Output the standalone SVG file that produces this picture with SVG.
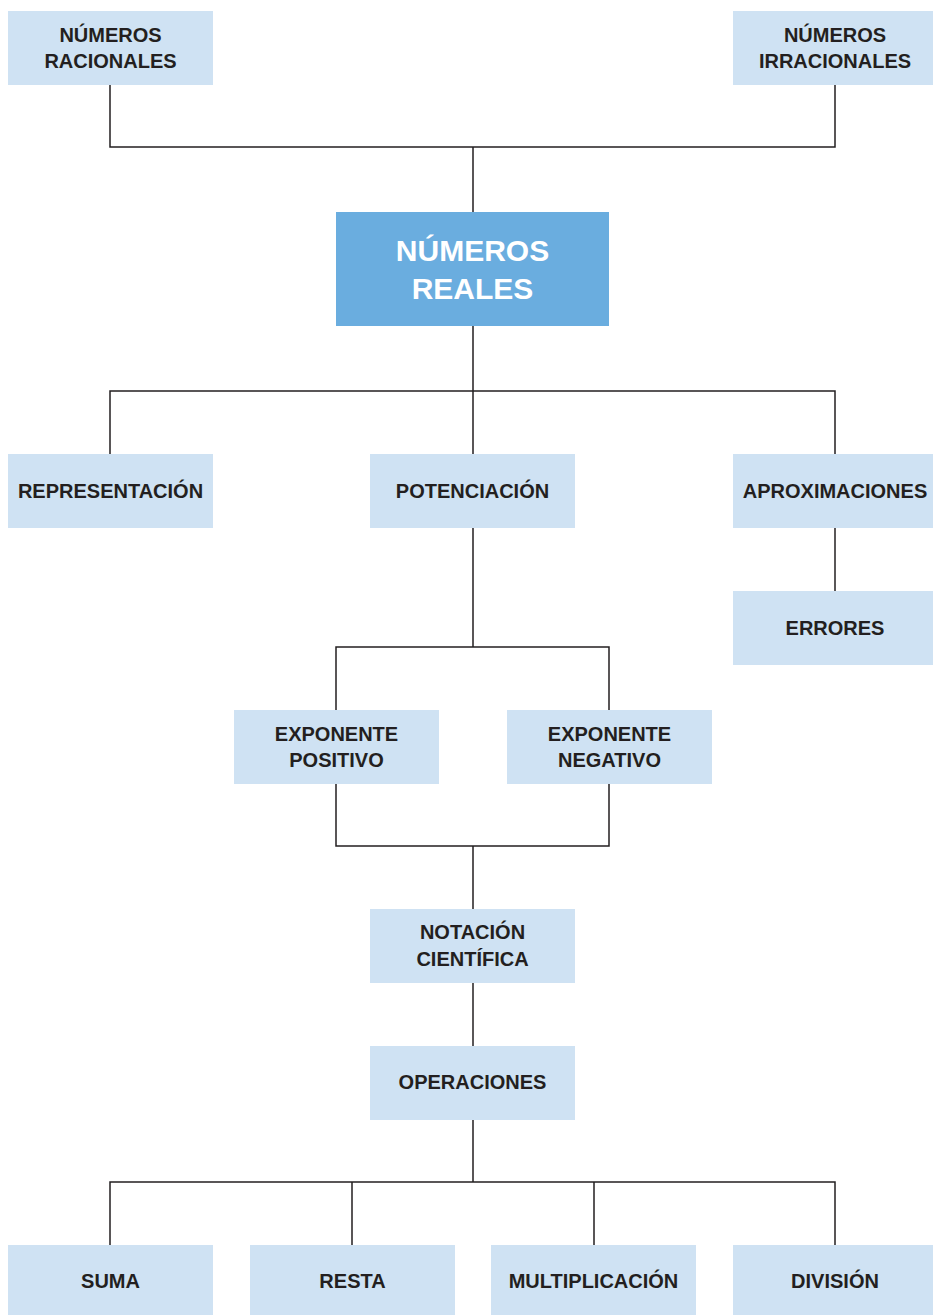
<svg xmlns="http://www.w3.org/2000/svg" width="933" height="1315" viewBox="0 0 933 1315">
<style>
.b{fill:#cfe2f3}
.t{font-family:"Liberation Sans",Arial,sans-serif;font-weight:bold;font-size:20px;fill:#231f20;text-anchor:middle}
.big{font-family:"Liberation Sans",Arial,sans-serif;font-weight:bold;font-size:30px;fill:#ffffff;text-anchor:middle}
.c{fill:none;stroke:#231f20;stroke-width:1.5}
</style>
<rect width="933" height="1315" fill="#ffffff"/>
<g id="connectors" class="c">
<path d="M110 85V147H835V85M473 147V212"/>
<path d="M473 326V454M110 454V391H835V454"/>
<path d="M835 528V591"/>
<path d="M473 528V647M336 710V647H609V710"/>
<path d="M336 784V846H609V784M473 846V909"/>
<path d="M473 983V1046"/>
<path d="M473 1120V1182M110 1245V1182H835V1245M352 1182V1245M594 1182V1245"/>
</g>
<g id="racionales"><rect class="b" x="8" y="11" width="205" height="74"/><text class="t" x="110.5" y="42">NÚMEROS</text><text class="t" x="110.5" y="68">RACIONALES</text></g>
<g id="irracionales"><rect class="b" x="733" y="11" width="200" height="74"/><text class="t" x="835" y="42">NÚMEROS</text><text class="t" x="835" y="68">IRRACIONALES</text></g>
<g id="reales"><rect x="336" y="212" width="273" height="114" fill="#6aaddf"/><text class="big" x="472.5" y="261">NÚMEROS</text><text class="big" x="472.5" y="299">REALES</text></g>
<g id="representacion"><rect class="b" x="8" y="454" width="205" height="74"/><text class="t" x="110.5" y="498">REPRESENTACIÓN</text></g>
<g id="potenciacion"><rect class="b" x="370" y="454" width="205" height="74"/><text class="t" x="472.5" y="498">POTENCIACIÓN</text></g>
<g id="aproximaciones"><rect class="b" x="733" y="454" width="200" height="74"/><text class="t" x="835" y="498">APROXIMACIONES</text></g>
<g id="errores"><rect class="b" x="733" y="591" width="200" height="74"/><text class="t" x="835" y="635">ERRORES</text></g>
<g id="positivo"><rect class="b" x="234" y="710" width="205" height="74"/><text class="t" x="336.5" y="741">EXPONENTE</text><text class="t" x="336.5" y="767">POSITIVO</text></g>
<g id="negativo"><rect class="b" x="507" y="710" width="205" height="74"/><text class="t" x="609.5" y="741">EXPONENTE</text><text class="t" x="609.5" y="767">NEGATIVO</text></g>
<g id="notacion"><rect class="b" x="370" y="909" width="205" height="74"/><text class="t" x="472.5" y="939">NOTACIÓN</text><text class="t" x="472.5" y="966">CIENTÍFICA</text></g>
<g id="operaciones"><rect class="b" x="370" y="1046" width="205" height="74"/><text class="t" x="472.5" y="1089">OPERACIONES</text></g>
<g id="suma"><rect class="b" x="8" y="1245" width="205" height="70"/><text class="t" x="110.5" y="1288">SUMA</text></g>
<g id="resta"><rect class="b" x="250" y="1245" width="205" height="70"/><text class="t" x="352.5" y="1288">RESTA</text></g>
<g id="multiplicacion"><rect class="b" x="491" y="1245" width="205" height="70"/><text class="t" x="593.5" y="1288">MULTIPLICACIÓN</text></g>
<g id="division"><rect class="b" x="733" y="1245" width="200" height="70"/><text class="t" x="835" y="1288">DIVISIÓN</text></g>
</svg>
